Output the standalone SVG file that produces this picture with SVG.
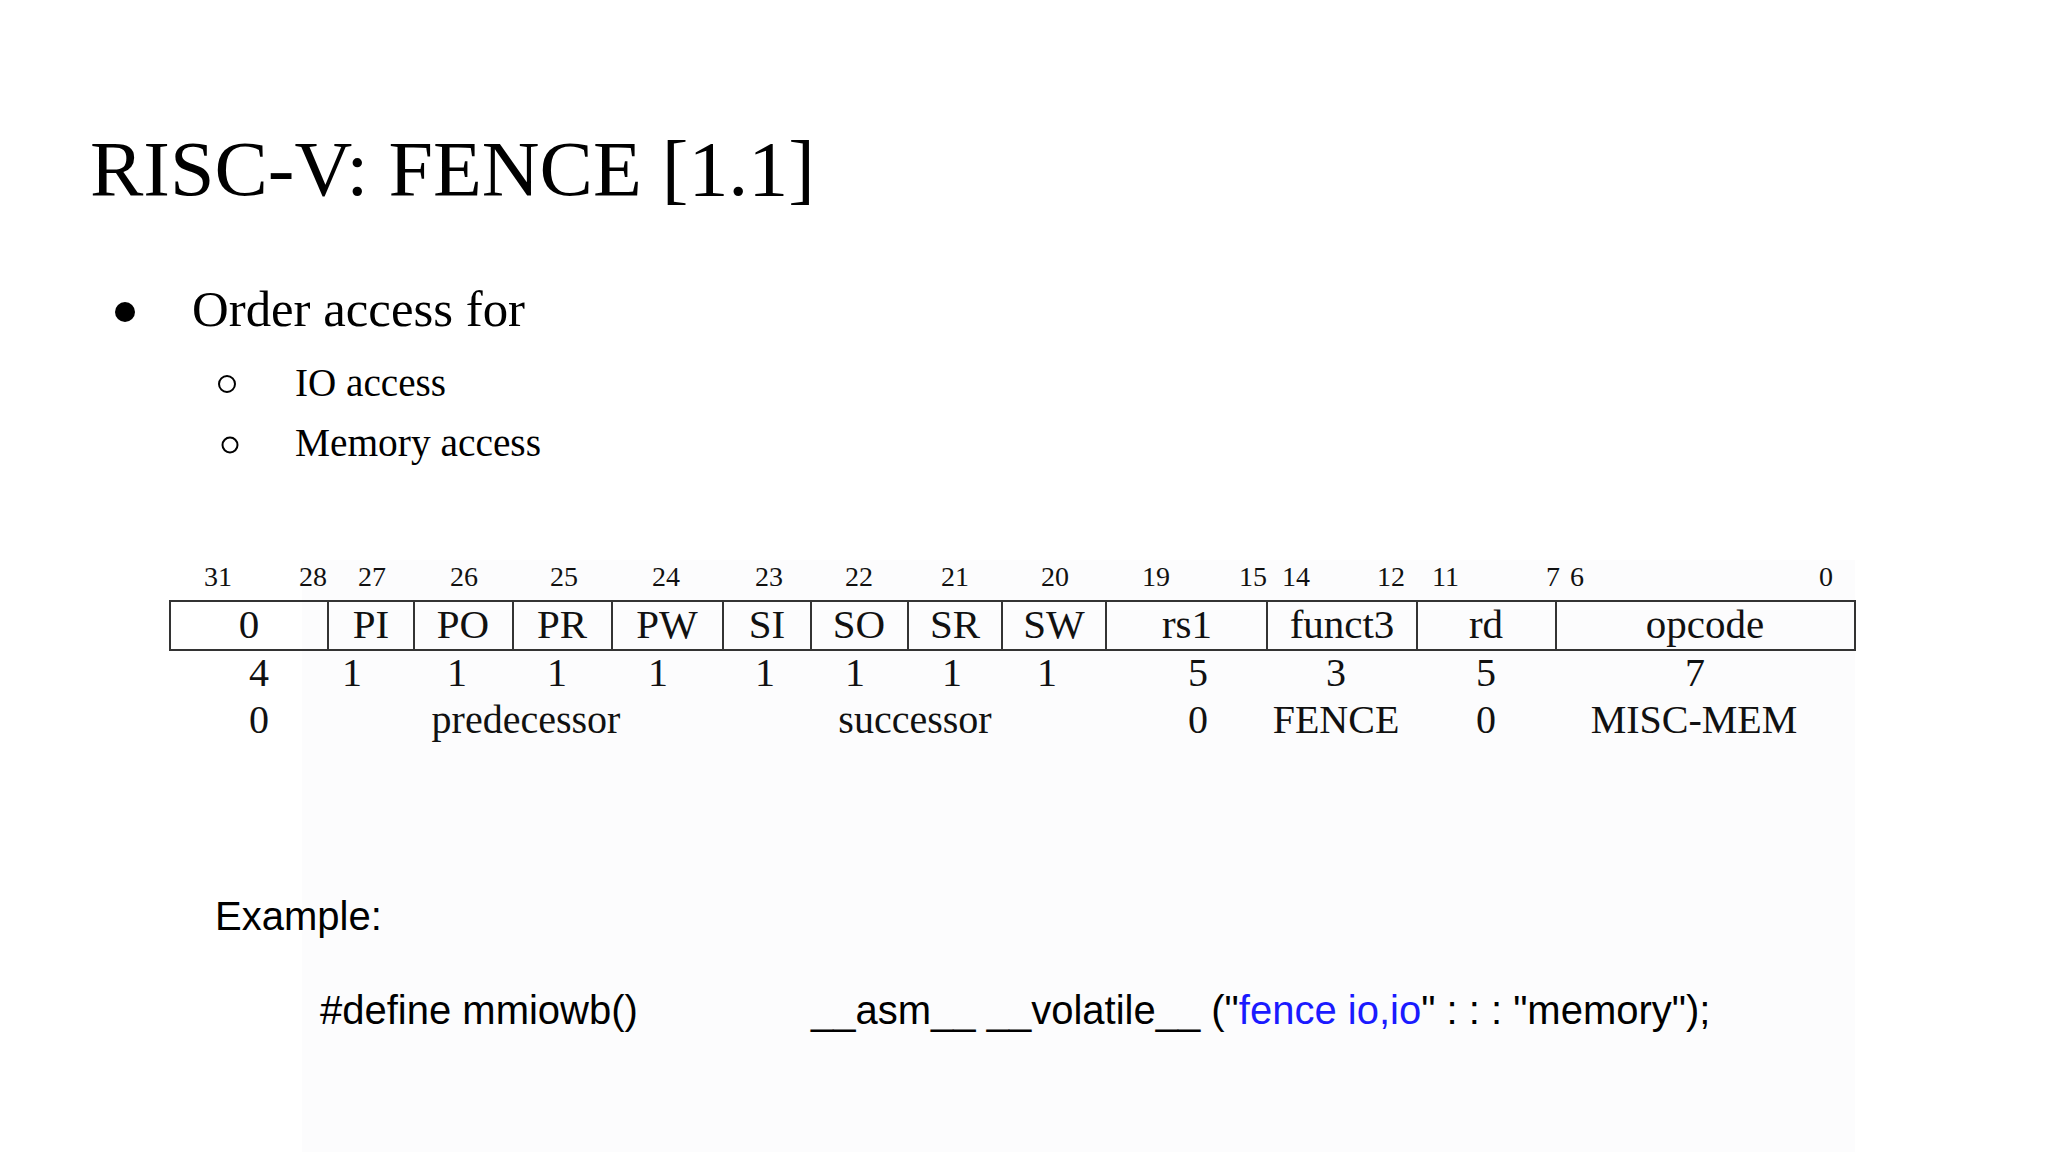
<svg xmlns="http://www.w3.org/2000/svg" width="2048" height="1152" viewBox="0 0 2048 1152">
<style>
.serif{font-family:"Liberation Serif","Times New Roman",serif;fill:#000}
.sans{font-family:"Liberation Sans",Arial,sans-serif;fill:#000}
.bit{font-family:"Liberation Serif",serif;font-size:28px;fill:#111}
.lbl{font-family:"Liberation Serif",serif;font-size:41px;fill:#111;text-anchor:middle}
.w{font-family:"Liberation Serif",serif;font-size:40px;fill:#111;text-anchor:middle}
.cell{fill:none;stroke:#333;stroke-width:2}
</style>
<rect width="2048" height="1152" fill="#ffffff"/>
<rect x="302" y="560" width="1553" height="592" fill="#fcfcfd"/>
<g id="title">
<text class="serif" x="90" y="195" font-size="79" textLength="725" lengthAdjust="spacingAndGlyphs">RISC-V: FENCE [1.1]</text>
</g>
<g id="bullets">
<circle cx="125" cy="312" r="10" fill="#000"/>
<text class="serif" x="192" y="326" font-size="50" textLength="333" lengthAdjust="spacingAndGlyphs">Order access for</text>
<circle cx="227" cy="384" r="8" fill="none" stroke="#000" stroke-width="2"/>
<text class="serif" x="295" y="396" font-size="39" textLength="151" lengthAdjust="spacingAndGlyphs">IO access</text>
<circle cx="230" cy="445" r="7.5" fill="none" stroke="#000" stroke-width="2"/>
<text class="serif" x="295" y="456" font-size="39" textLength="246" lengthAdjust="spacingAndGlyphs">Memory access</text>
</g>
<g id="fence-format">
<g id="bit-numbers" class="bit">
<text x="204" y="586">31</text>
<text x="299" y="586">28</text>
<text x="358" y="586">27</text>
<text x="450" y="586">26</text>
<text x="550" y="586">25</text>
<text x="652" y="586">24</text>
<text x="755" y="586">23</text>
<text x="845" y="586">22</text>
<text x="941" y="586">21</text>
<text x="1041" y="586">20</text>
<text x="1142" y="586">19</text>
<text x="1239" y="586">15</text>
<text x="1282" y="586">14</text>
<text x="1377" y="586">12</text>
<text x="1432" y="586">11</text>
<text x="1546" y="586">7</text>
<text x="1570" y="586">6</text>
<text x="1819" y="586">0</text>
</g>
<g id="fields">
<rect class="cell" x="170" y="601" width="1685" height="49"/>
<line class="cell" x1="328" y1="601" x2="328" y2="650"/>
<line class="cell" x1="414" y1="601" x2="414" y2="650"/>
<line class="cell" x1="513" y1="601" x2="513" y2="650"/>
<line class="cell" x1="612" y1="601" x2="612" y2="650"/>
<line class="cell" x1="723" y1="601" x2="723" y2="650" stroke-width="3"/>
<line class="cell" x1="811" y1="601" x2="811" y2="650"/>
<line class="cell" x1="908" y1="601" x2="908" y2="650"/>
<line class="cell" x1="1002" y1="601" x2="1002" y2="650"/>
<line class="cell" x1="1106" y1="601" x2="1106" y2="650"/>
<line class="cell" x1="1267" y1="601" x2="1267" y2="650"/>
<line class="cell" x1="1417" y1="601" x2="1417" y2="650"/>
<line class="cell" x1="1556" y1="601" x2="1556" y2="650"/>
<g class="lbl">
<text x="249" y="638">0</text>
<text x="371" y="638">PI</text>
<text x="463" y="638">PO</text>
<text x="562" y="638">PR</text>
<text x="667" y="638">PW</text>
<text x="767" y="638">SI</text>
<text x="859" y="638">SO</text>
<text x="955" y="638">SR</text>
<text x="1054" y="638">SW</text>
<text x="1187" y="638">rs1</text>
<text x="1342" y="638">funct3</text>
<text x="1486" y="638">rd</text>
<text x="1705" y="638">opcode</text>
</g>
</g>
<g id="widths" class="w">
<text x="259" y="686">4</text>
<text x="352" y="686">1</text>
<text x="457" y="686">1</text>
<text x="557" y="686">1</text>
<text x="658" y="686">1</text>
<text x="765" y="686">1</text>
<text x="855" y="686">1</text>
<text x="952" y="686">1</text>
<text x="1047" y="686">1</text>
<text x="1198" y="686">5</text>
<text x="1336" y="686">3</text>
<text x="1486" y="686">5</text>
<text x="1695" y="686">7</text>
</g>
<g id="values" class="w">
<text x="259" y="733">0</text>
<text x="526" y="733">predecessor</text>
<text x="915" y="733">successor</text>
<text x="1198" y="733">0</text>
<text x="1336" y="733">FENCE</text>
<text x="1486" y="733">0</text>
<text x="1694" y="733">MISC-MEM</text>
</g>
</g>
<g id="example">
<text class="sans" x="215" y="930" font-size="40">Example:</text>
<text class="sans" x="320" y="1024" font-size="40">#define mmiowb()</text>
<text class="sans" x="811" y="1024" font-size="40">__asm__ __volatile__ ("<tspan fill="#1a1aff">fence io,io</tspan>" : : : "memory");</text>
</g>
</svg>
